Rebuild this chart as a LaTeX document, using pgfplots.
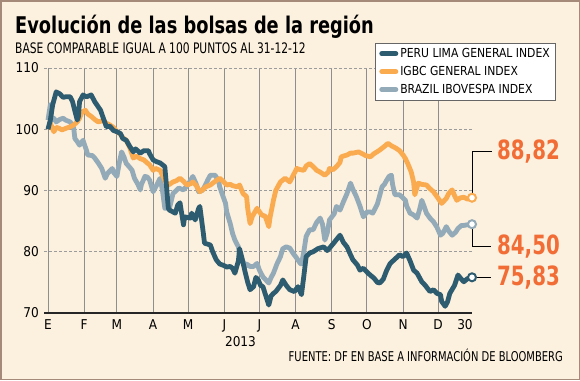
\documentclass[border=0pt]{standalone}
\usepackage{pgfplots}
\pgfplotsset{compat=1.18}
\usepackage{fontspec}
\setmainfont{DejaVu Sans Condensed}
\newfontfamily\narrow[FakeStretch=0.82]{DejaVu Sans Condensed}
\newfontfamily\legfont[FakeStretch=0.97]{DejaVu Sans Condensed}
\newfontfamily\titlefont[FakeStretch=0.86]{DejaVu Sans Condensed Bold}
\newfontfamily\labelfont[FakeStretch=0.83]{DejaVu Sans Condensed Bold}
\definecolor{bg}{HTML}{FCF0DE}
\definecolor{framec}{HTML}{A58A7A}
\definecolor{peru}{HTML}{2D5B6F}
\definecolor{igbc}{HTML}{FAAA4F}
\definecolor{brazil}{HTML}{93AAB8}
\definecolor{lbl}{HTML}{F26D35}
\definecolor{gridc}{HTML}{8E8E8E}
\definecolor{dashc}{HTML}{9C9C9C}

\pgfplotstableread{
d v
0 100
2 101.5
4 104
7 106.1
10 105.8
13 105.2
15 105.3
19 105.3
21 104.5
25 101.5
26 102
27 104.5
30 105.6
33 105.3
37 105.6
40 104.5
45 103.1
47 102
50 100.4
53 100.5
56 99.8
59 99.6
62 99.3
64 98.5
67 98.2
70 97.2
73 96.3
75 96.8
79 96.1
82 96.5
86 96.5
87 96
90 95
93 94.7
96 94.5
98 94.2
100 93.9
101.5 90.6
103 87.1
104 86.8
107 86.5
109 86.3
111 87.6
113 88
116 84.4
117 85.7
122 85.5
123 86.3
126 85.2
129 87.1
130 87.4
133 83
134 81.4
139 81.1
141 80
144 78.7
147 78
150 77.8
153 77.5
156 77.6
158 77.3
160 76.5
163 78.5
164 80.5
166 79
169 76.5
171 75
173 73.8
176 74.3
178 75.8
180 75.4
182 74.5
184 74.3
187 72.5
189 71.3
191 72.8
193 73.2
195 73.5
199 74.5
201 75.4
204 74.5
207 73.8
211 73.5
214 74.3
217 73
219 76
221 79.2
224 79.8
227 80
231 80.5
236 80.8
239 80.2
241 80.6
245 81.5
247 82
250 82.7
253 81.5
256 80.8
259 79.5
261 78.7
265 77.8
267 77
270 77.3
274 76.5
279 75.7
282 75
284 74.9
287 75.5
290 77
293 78.1
297 78.8
301 79.5
304 79.2
307 79.8
310 78.5
313 77
316 76.5
320 75.1
323 74.5
327 73.5
330 73.8
333 73.2
336 73
337 71.9
340 71.1
342 71.8
344 73.2
348 74.5
351 76.2
354 75.5
356 75.1
359 75.6
363 75.83
}\peru

\pgfplotstableread{
d v
0 100
2 101
5 99.6
7 100.3
9 100.2
12 99.9
16 100.2
19 100.4
22 100.7
25 101.2
27 101.8
29 102.8
32 103.1
34 102.5
37 102.1
40 101.6
43 101.2
47 101.4
50 101
53 100.7
56 100.3
59 99.6
62 99.2
64 98.6
67 98.2
70 97
73 95.3
76 95.6
79 95.2
82 95
85 94.5
87 94.2
90 93.3
92 93.6
96 93.3
98 92.5
102 90.9
104 91
107 91.4
110 91.6
113 92
116 91.5
119 90.9
122 91.1
124 91.4
127 90.8
130 89.8
133 90.2
135 90.6
139 90.9
141 91.2
144 91.6
147 92
150 91.5
153 90.9
156 91
158 90.8
162 90.6
164 90.9
167 89.5
170 89
171 87
173 84.6
175 85.8
179 87.1
180 86.8
183 86
186 85.8
189 84.1
190 85.5
193 88.4
195 90
199 91.4
203 92
207 91.4
210 92.5
213 93.6
216 93.4
219 93.3
221 94
224 94.4
227 93.9
230 93.3
233 93
237 92.5
240 93
241 93.6
244 93.4
247 93.9
250 94.6
251 95.5
256 95.8
259 96.1
261 96.1
266 96.3
269 96
272 95.7
276 95.5
279 96
284 96.6
288 97.2
291 97.7
294 97.3
298 96.9
301 96.5
304 95.8
306 95.2
308 94.4
311 93
313 91.4
314 89.3
317 91.2
320 91
324 90.9
327 90.3
330 89.8
333 89
337 87.9
339 88.3
341 88.7
343 89.5
346 90.1
348 89.2
350 88.4
353 88.8
356 88.9
359 88.6
363 88.82
}\igbc

\pgfplotstableread{
d v
0 101.5
2 104
3 101.5
5 101.8
7 101.2
10 101.6
13 101.8
15 101.5
19 101.2
22 100.2
23 98.5
25 98
27 97.4
30 98.2
33 96.5
34 95.8
38 95.7
40 95.3
43 94.5
46 93.6
49 92
51 92.8
55 93.6
56 93
59 92.3
61 94.5
63 96.3
65 95.5
67 94.4
69 94
72 93.3
74 92
77 91
79 90.1
80 91
83 92.3
85 92.2
87 91.7
90 89.8
92 90.5
96 92
98 90
100 87.1
104 87.1
107 89.5
112 90.4
116 90.1
120 91
124 92.3
127 91
129 89.8
132 90
134 90.6
137 91.8
139 92.5
143 92.5
146 91.6
147 90.6
149 89.5
152 87.9
153 86.5
156 84.6
158 83
160 81.9
163 80.8
164 79.7
166 78.8
169 77.6
170 78
173 77.6
176 77.6
179 78.1
181 77
184 75.9
186 75.5
189 74.9
191 75.8
193 76.5
196 78
199 79.2
201 80.5
204 80.8
207 80.6
210 79.7
212 79.2
216 78.1
217 78
219 80
221 82.5
224 83.6
227 83.6
230 84.8
233 85.5
235 84.5
237 81.9
239 83
241 85.2
245 86.2
247 87.4
250 86.8
253 88.2
256 89.5
259 91.2
261 90.2
264 89
267 87.5
270 85.7
273 86.5
276 86.5
278 86.3
282 87.8
286 90.6
288 91
290 91.7
292 92.3
294 92.5
295 91
297 89.3
301 89.3
306 88.4
307 87.5
310 86.3
313 86
316 85.5
318 86.8
320 88.4
322 87.4
324 86.3
327 85.5
330 84.9
333 84
336 82.7
338 83
341 84.1
343 83.4
346 82.7
349 83.2
351 83.8
354 84.3
356 84.3
359 84.4
363 84.5
}\brazil

\begin{document}
\begin{tikzpicture}
\fill[bg] (0pt,0pt) rectangle (580pt,-380pt);
\draw[framec,line width=1.5pt] (0.75pt,-0.75pt) rectangle (579.25pt,-379.25pt);
\node[anchor=base west, inner sep=0pt, font=\titlefont\fontsize{23}{24}\selectfont] at (15pt,-33pt) {Evolución de las bolsas de la región};
\node[anchor=base west, inner sep=0pt, font=\narrow\fontsize{14.5}{15}\selectfont] at (15pt,-53.3pt) {BASE COMPARABLE IGUAL A 100 PUNTOS AL 31-12-12};
\node[anchor=base, inner sep=0pt, font=\fontsize{13.5}{14}\selectfont] at (240.5pt,-346pt) {2013};
\node[anchor=base east, inner sep=0pt, font=\narrow\fontsize{13.5}{14}\selectfont] at (563pt,-361.5pt) {FUENTE: DF EN BASE A INFORMACIÓN DE BLOOMBERG};
\begin{axis}[
  at={(48pt,-313pt)}, anchor=south west,
  scale only axis, width=424pt, height=245pt,
  xmin=0, xmax=363, ymin=70, ymax=110,
  clip=false,
  axis x line=none, axis y line=none,
  xtick=\empty, ytick=\empty,
  reverse legend,
  legend cell align=left,
  legend style={at={(0.771,1.102)}, anchor=north west, draw=gray!80!black, line width=0.8pt, fill=white,
    font=\legfont\fontsize{12.4}{13}\selectfont, inner xsep=4pt, inner ysep=3pt, row sep=3.2pt},
  legend image code/.code={\draw[#1, line cap=round, line width=5pt] (0pt,0pt) -- (14pt,0pt);},
]
% vertical grid lines at month starts
\pgfplotsinvokeforeach{0,31,59,90,120,151,181,212,243,273,304,334}{
  \draw[gridc, line width=0.9pt] (axis cs:#1,70) -- (axis cs:#1,110);
}
\pgfplotsinvokeforeach{80,90,100,110}{
  \draw[dashc, line width=0.8pt, dash pattern=on 3pt off 2pt] ([xshift=-4pt]axis cs:0,#1) -- (axis cs:363,#1);
}
% tick labels
\pgfplotsinvokeforeach{70,80,90,100,110}{
  \node[anchor=east, inner sep=0pt, font=\fontsize{13.5}{14}\selectfont] at ([xshift=-9pt]axis cs:0,#1) {#1};
}
\node[anchor=north, inner sep=0pt, font=\fontsize{13.5}{14}\selectfont] at ([yshift=-6pt]axis cs:0,70) {E};
\node[anchor=north, inner sep=0pt, font=\fontsize{13.5}{14}\selectfont] at ([yshift=-6pt]axis cs:31,70) {F};
\node[anchor=north, inner sep=0pt, font=\fontsize{13.5}{14}\selectfont] at ([yshift=-6pt]axis cs:59,70) {M};
\node[anchor=north, inner sep=0pt, font=\fontsize{13.5}{14}\selectfont] at ([yshift=-6pt]axis cs:90,70) {A};
\node[anchor=north, inner sep=0pt, font=\fontsize{13.5}{14}\selectfont] at ([yshift=-6pt]axis cs:120,70) {M};
\node[anchor=north, inner sep=0pt, font=\fontsize{13.5}{14}\selectfont] at ([yshift=-6pt]axis cs:151,70) {J};
\node[anchor=north, inner sep=0pt, font=\fontsize{13.5}{14}\selectfont] at ([yshift=-6pt]axis cs:181,70) {J};
\node[anchor=north, inner sep=0pt, font=\fontsize{13.5}{14}\selectfont] at ([yshift=-6pt]axis cs:212,70) {A};
\node[anchor=north, inner sep=0pt, font=\fontsize{13.5}{14}\selectfont] at ([yshift=-6pt]axis cs:243,70) {S};
\node[anchor=north, inner sep=0pt, font=\fontsize{13.5}{14}\selectfont] at ([yshift=-6pt]axis cs:273,70) {O};
\node[anchor=north, inner sep=0pt, font=\fontsize{13.5}{14}\selectfont] at ([yshift=-6pt]axis cs:304,70) {N};
\node[anchor=north, inner sep=0pt, font=\fontsize{13.5}{14}\selectfont] at ([yshift=-6pt]axis cs:334,70) {D};
\node[anchor=north, inner sep=0pt, font=\fontsize{13.5}{14}\selectfont] at ([yshift=-6pt]axis cs:357,70) {30};
\addplot[brazil, line width=4.8pt, line join=round] table[x=d,y=v] {\brazil};
\addlegendentry{BRAZIL IBOVESPA INDEX}
\addplot[igbc, line width=4.8pt, line join=round] table[x=d,y=v] {\igbc};
\addlegendentry{IGBC GENERAL INDEX}
\addplot[peru, line width=4.8pt, line join=round] table[x=d,y=v] {\peru};
\addlegendentry{PERU LIMA GENERAL INDEX}
\draw[black!85, line width=1.5pt] ([xshift=-4pt]axis cs:0,70) -- (axis cs:363,70);
% connectors
\draw[black, line width=1pt] ([yshift=4pt]axis cs:363,88.82) -- ([yshift=46pt]axis cs:363,88.82) -- ([xshift=20pt,yshift=46pt]axis cs:363,88.82);
\draw[black, line width=1pt] ([yshift=-4pt]axis cs:363,84.5) -- ([yshift=-22pt]axis cs:363,84.5) -- ([xshift=19pt,yshift=-22pt]axis cs:363,84.5);
\draw[black, line width=1pt] ([xshift=4pt]axis cs:363,75.83) -- ([xshift=19pt]axis cs:363,75.83);
\addplot[forget plot, only marks, mark=*, mark size=4pt, mark options={fill=white, draw=brazil, line width=2pt}] coordinates {(363,84.5)};
\addplot[forget plot, only marks, mark=*, mark size=4pt, mark options={fill=white, draw=igbc, line width=2pt}] coordinates {(363,88.82)};
\addplot[forget plot, only marks, mark=*, mark size=4pt, mark options={fill=white, draw=peru, line width=2pt}] coordinates {(363,75.83)};
\node[anchor=west, inner sep=0pt, text=lbl, font=\labelfont\fontsize{26.5}{27}\selectfont] at ([xshift=25pt, yshift=46pt]axis cs:363,88.82) {88,82};
\node[anchor=west, inner sep=0pt, text=lbl, font=\labelfont\fontsize{26.5}{27}\selectfont] at ([xshift=25pt, yshift=-22pt]axis cs:363,84.5) {84,50};
\node[anchor=west, inner sep=0pt, text=lbl, font=\labelfont\fontsize{26.5}{27}\selectfont] at ([xshift=25pt]axis cs:363,75.83) {75,83};
\end{axis}
\end{tikzpicture}
\end{document}
